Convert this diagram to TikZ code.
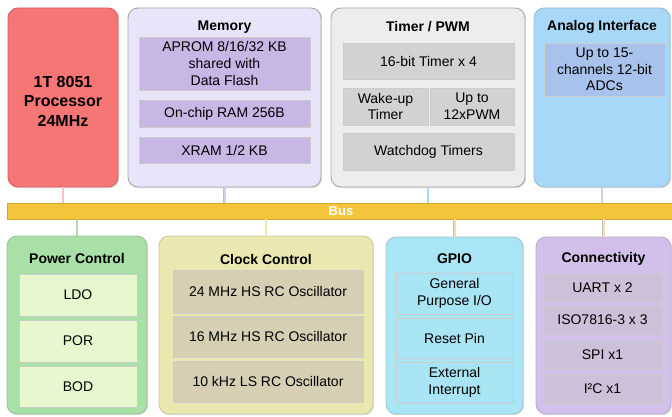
\documentclass[tikz,border=0pt]{standalone}
\usepackage{fontspec}
\setmainfont{Liberation Sans}
\usetikzlibrary{shadows,fit}
\definecolor{procfill}{HTML}{F67676}
\definecolor{procdraw}{HTML}{D86060}
\definecolor{memfill}{HTML}{E8E4FA}
\definecolor{memsub}{HTML}{C8B6E4}
\definecolor{timfill}{HTML}{EDEDED}
\definecolor{timsub}{HTML}{D2D2D2}
\definecolor{anafill}{HTML}{A8D8F8}
\definecolor{anasub}{HTML}{A8C2EC}
\definecolor{powfill}{HTML}{A8E0A8}
\definecolor{powsub}{HTML}{E8F8CE}
\definecolor{clkfill}{HTML}{EAE8B0}
\definecolor{clksub}{HTML}{D6CFB4}
\definecolor{gpiofill}{HTML}{A8E6F6}
\definecolor{gpiosub}{HTML}{A8E4F4}
\definecolor{confill}{HTML}{D2C0EA}
\definecolor{consub}{HTML}{CDC0D8}
\definecolor{busfill}{HTML}{F4C43A}
\definecolor{edgegray}{HTML}{A8A8A8}
\tikzset{
  outerbox/.style={draw=edgegray, line width=0.9pt, rounded corners=10pt, inner sep=0pt,
    drop shadow={shadow xshift=1.2pt, shadow yshift=-1.2pt, opacity=0.25}},
  subbox/.style={draw=black!20, line width=0.6pt, inner sep=0pt, outer sep=0pt, align=center,
    font=\fontsize{14}{16.7}\selectfont,
    drop shadow={shadow xshift=0.8pt, shadow yshift=-0.8pt, opacity=0.15}},
  sz/.style 2 args={minimum width=#1pt, minimum height=#2pt},
  boxtitle/.style={font=\fontsize{14}{16.7}\selectfont\bfseries, inner sep=0pt},
  conn/.style={line width=2pt, preaction={draw=black!25, line width=2.8pt}},
}
\begin{document}
\begin{tikzpicture}[x=1pt,y=-1pt]
\useasboundingbox[fill=white] (0,0) rectangle (672,417);
% Bus
\node[fit={(7,203) (672,219)}, fill=busfill, draw=busfill!85!black, line width=0.4pt, inner sep=0pt] (bus) {};
\node[font=\fontsize{13}{15}\selectfont\bfseries, text=white, inner sep=0pt] (bustext) at (341,211) {Bus};
% Top boxes
\node[outerbox, fill=procfill, draw=procdraw, fit={(8,8) (118,187)}] (proc) {};
\node[font=\fontsize{16}{19.5}\selectfont\bfseries, align=center, inner sep=0pt] (proctext) at (63,101) {1T 8051\\Processor\\24MHz};
\node[outerbox, fill=memfill, fit={(128,8) (321,187)}] (mem) {};
\node[boxtitle] (memt) at (224.5,27) {Memory};
\node[subbox, fill=memsub, sz={171}{53}] (aprom) at (224.5,63.5) {APROM 8/16/32 KB\\shared with\\Data Flash};
\node[subbox, fill=memsub, sz={171}{27}] (ram) at (224.5,113.5) {On-chip RAM 256B};
\node[subbox, fill=memsub, sz={171}{26}] (xram) at (224.5,150) {XRAM 1/2 KB};
\node[outerbox, fill=timfill, fit={(331,8) (525,187)}] (tim) {};
\node[boxtitle] (timt) at (428,27) {Timer / PWM};
\node[subbox, fill=timsub, sz={171}{36}] (t16) at (428.5,61) {16-bit Timer x 4};
\node[subbox, fill=timsub, sz={85}{37}] (wake) at (385.5,106.5) {Wake-up\\Timer};
\node[subbox, fill=timsub, sz={84}{37}] (pwm) at (472,106.5) {Up to\\12xPWM};
\node[subbox, fill=timsub, sz={171}{37}] (wdt) at (428.5,151.5) {Watchdog Timers};
\node[outerbox, fill=anafill, draw=anafill!70!gray, fit={(534,8) (670,187)}] (ana) {};
\node[boxtitle] (anat) at (602,27) {Analog Interface};
\node[subbox, fill=anasub, sz={121}{53}] (adc) at (604.5,69.5) {Up to 15-\\channels 12-bit\\ADCs};
% Bottom boxes
\node[outerbox, fill=powfill, draw=powfill!70!gray, fit={(7,236) (147,414)}] (pow) {};
\node[boxtitle] (powt) at (77,258) {Power Control};
\node[subbox, fill=powsub, sz={118}{42}] (ldo) at (78,295) {LDO};
\node[subbox, fill=powsub, sz={118}{42}] (por) at (78,341) {POR};
\node[subbox, fill=powsub, sz={118}{41}] (bod) at (78,386.5) {BOD};
\node[outerbox, fill=clkfill, draw=clkfill!70!gray, fit={(159,236) (373,414)}] (clk) {};
\node[boxtitle] (clkt) at (266,259) {Clock Control};
\node[subbox, fill=clksub, sz={190}{43}] (osc1) at (268,291.5) {24 MHz HS RC Oscillator};
\node[subbox, fill=clksub, sz={190}{41}] (osc2) at (268,336.5) {16 MHz HS RC Oscillator};
\node[subbox, fill=clksub, sz={190}{41}] (osc3) at (268,381.5) {10 kHz LS RC Oscillator};
\node[outerbox, fill=gpiofill, draw=gpiofill!70!gray, fit={(386,237) (523,414)}] (gpio) {};
\node[boxtitle] (gpiot) at (454.5,259) {GPIO};
\node[subbox, fill=gpiosub, sz={117}{41}] (gpo) at (454.5,293.5) {General\\Purpose I/O};
\node[subbox, fill=gpiosub, sz={117}{40}] (rst) at (454.5,338) {Reset Pin};
\node[subbox, fill=gpiosub, sz={117}{41}] (eint) at (454.5,382.5) {External\\Interrupt};
\node[outerbox, fill=confill, draw=confill!70!gray, fit={(536,237) (671,414)}] (con) {};
\node[boxtitle] (cont) at (603.5,259) {Connectivity};
\node[subbox, fill=consub, sz={119}{27}] (uart) at (602.5,287.5) {UART x 2};
\node[subbox, fill=consub, sz={119}{28}] (iso) at (602.5,320) {ISO7816-3 x 3};
\node[subbox, fill=consub, sz={119}{28}] (spi) at (602.5,355) {SPI x1};
\node[subbox, fill=consub, sz={119}{28}] (i2c) at (602.5,389) {I²C x1};
% Connectors
\draw[conn, draw=procfill!45!white] (proc.south) -- (proc.south |- bus.north);
\draw[conn, draw=memsub!70!white] (mem.south) -- (mem.south |- bus.north);
\draw[conn, draw=anafill] (tim.south) -- (tim.south |- bus.north);
\draw[conn, draw=timsub] (ana.south) -- (ana.south |- bus.north);
\draw[conn, draw=powfill] (pow.north) -- (pow.north |- bus.south);
\draw[conn, draw=clkfill] (clk.north) -- (clk.north |- bus.south);
\draw[conn, draw=orange!30!white] (gpio.north) -- (gpio.north |- bus.south);
\draw[conn, draw=orange!30!white] (con.north) -- (con.north |- bus.south);
\end{tikzpicture}
\end{document}
